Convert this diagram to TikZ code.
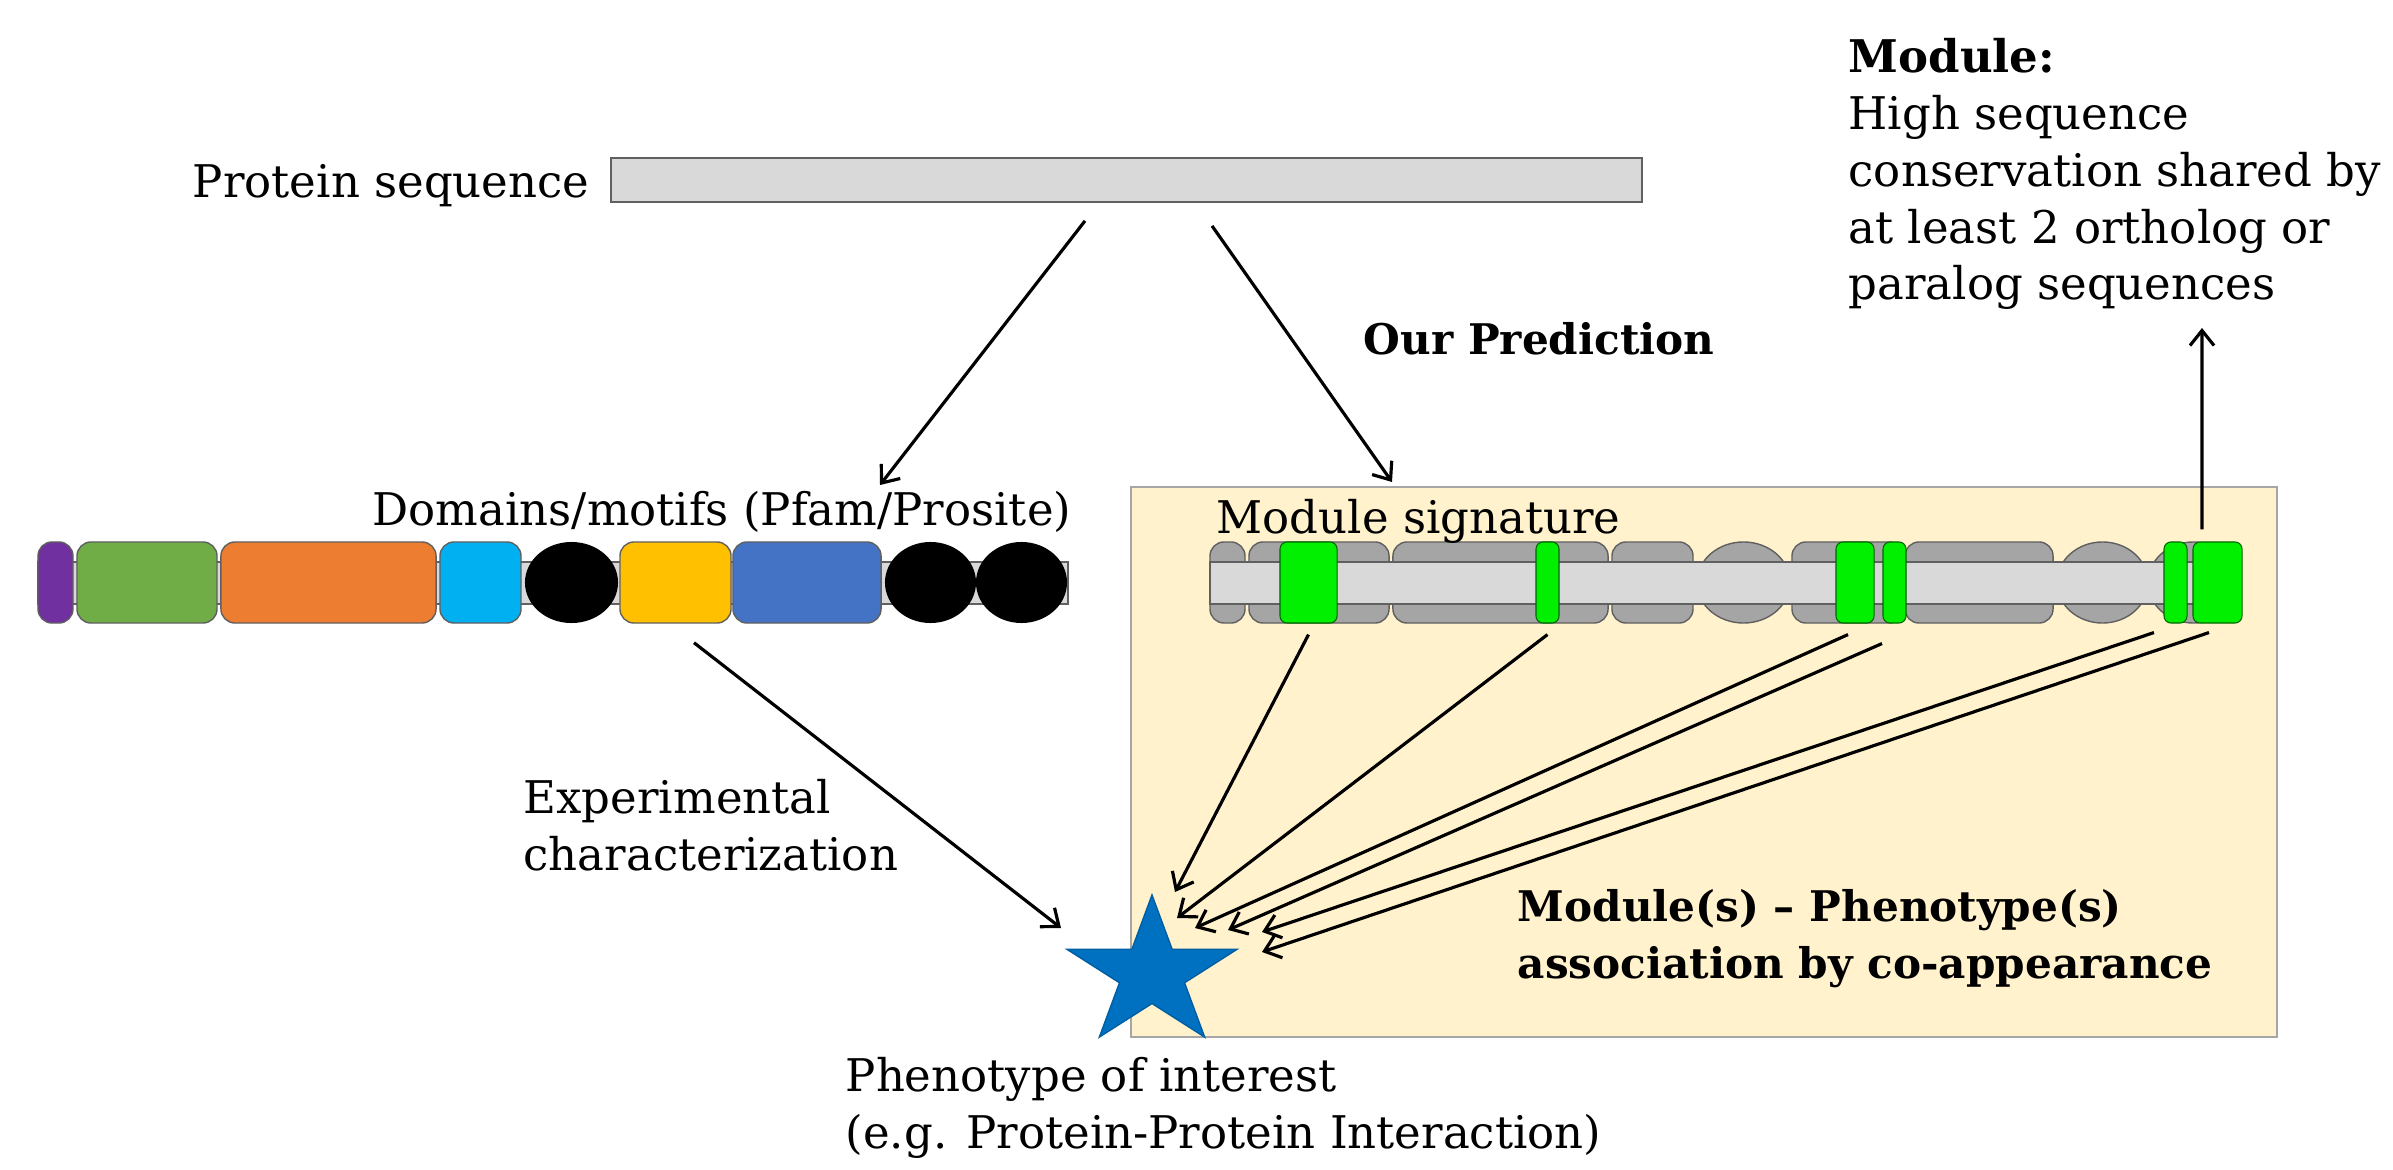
\documentclass[tikz,border=0pt]{standalone}
\usepackage{fontspec}
\setmainfont{DejaVu Serif}
\usetikzlibrary{arrows.meta}
\usetikzlibrary{shapes.geometric}
\definecolor{cPurple}{HTML}{7030A0}
\definecolor{cGreen}{HTML}{70AD47}
\definecolor{cOrange}{HTML}{ED7D31}
\definecolor{cCyan}{HTML}{00B0F0}
\definecolor{cYellow}{HTML}{FFC000}
\definecolor{cBlue}{HTML}{4472C4}
\definecolor{cDom}{HTML}{A5A5A5}
\definecolor{cStrip}{HTML}{D9D9D9}
\definecolor{cMod}{HTML}{00F000}
\definecolor{cBox}{HTML}{FFF2CC}
\definecolor{cStar}{HTML}{0070C0}
\tikzset{dom/.style = {draw=gray!75!black, line width=0.4pt, rounded corners=0.14cm,
                       minimum height=0.81cm, inner sep=0},
         blob/.style = {ellipse, minimum height=0.81cm, inner sep=0},
         strip/.style = {draw=gray!75!black, line width=0.5pt, fill=cStrip,
                         minimum height=0.42cm, inner sep=0},
         mod/.style = {draw=green!40!black, line width=0.3pt, fill=cMod,
                       rounded corners=0.07cm, minimum height=0.81cm, inner sep=0},
         lbl/.style = {inner sep=0, align=left, font=\fontsize{12.8pt}{16.2pt}\selectfont},
         bold/.style = {lbl, font=\fontsize{12pt}{16.2pt}\selectfont\bfseries},
         arr/.style = {-{Straight Barb[length=1.5mm, width=2.4mm]}, line width=0.9pt}}

\begin{document}
\begin{tikzpicture}[x=0.01cm, y=-0.01cm]
    \useasboundingbox (0, 0) rectangle (2393, 1170);

    % protein
    \node [strip, minimum width=10.31cm, minimum height=0.44cm] (seq) at (1126.5, 180) {};
    \node [lbl, anchor=base east] (seqlbl) at (590, 198) {Protein sequence};

    % known domains
    \node [strip, minimum width=10.3cm] (lbar) at (553, 583) {};
    \foreach \c/\w/\col [count=\i] in {55.5/0.35/cPurple, 147/1.40/cGreen, 328.5/2.15/cOrange,
                                       480.5/0.81/cCyan, 675.5/1.11/cYellow, 807/1.48/cBlue}
      \node [dom, fill=\col, minimum width=\w cm] (d\i) at (\c, 582.5) {};
    \foreach \c/\w [count=\i] in {571.5/0.93, 930.5/0.91, 1021.5/0.91}
      \node [blob, fill=black, minimum width=\w cm] (e\i) at (\c, 582.5) {};
    \node [lbl, anchor=base east] (domlbl) at (1072, 525) {Domains/motifs (Pfam/Prosite)};

    % prediction
    \node [draw=gray!70, line width=0.5pt, fill=cBox, minimum width=11.46cm,
           minimum height=5.5cm, inner sep=0] (predbox) at (1704, 762) {};
    \foreach \c/\w [count=\i] in {55.5/0.35, 147/1.40, 328.5/2.15, 480.5/0.81, 675.5/1.11, 807/1.48}
      \node [dom, fill=cDom, minimum width=\w cm] (r\i) at (\c+1172, 582.5) {};
    \foreach \c/\w [count=\i] in {571.5/0.93, 930.5/0.91, 1021.5/0.91}
      \node [blob, draw=gray!75!black, line width=0.4pt, fill=cDom, minimum width=\w cm] (q\i) at (\c+1172, 582.5) {};
    \node [strip, minimum width=10.3cm] (rbar) at (1725, 583) {};
    \foreach \c/\w [count=\i] in {1308.5/0.57, 1547.5/0.23, 1855/0.38, 1894.5/0.23, 2175.5/0.23, 2217.5/0.49}
      \node [mod, minimum width=\w cm] (g\i) at (\c, 582.5) {};
    \node [lbl, anchor=base west] (siglbl) at (1216, 533) {Module signature};

    \begin{scope}[shift={(1152, 973.5)}, xscale=1.14]
      \node [star, star points=5, star point ratio=2.618, minimum size=1.57cm, inner sep=0,
             fill=cStar, draw=cStar!85!black, line width=0.4pt, transform shape] (phen) at (0, 0) {};
    \end{scope}

    % texts (base = last line)
    \node [bold, anchor=base west] (predlbl) at (1363, 354) {Our Prediction};
    \node [lbl, anchor=base west] (modlbl) at (1848, 300) {\textbf{Module:}\\High sequence\\conservation shared by\\at least 2 ortholog or\\paralog sequences};
    \node [lbl, anchor=base west] (explbl) at (523, 870) {Experimental\\characterization};
    \node [bold, anchor=base west] (assoclbl) at (1517, 978) {Module(s) -- Phenotype(s)\\association by co-appearance};
    \node [lbl, anchor=base west] (phenlbl) at (845, 1148) {Phenotype of interest\\(e.g. Protein-Protein Interaction)};

    % arrow ends
    \coordinate (tDom) at (880, 485);
    \coordinate (tBox) at (1392, 482);
    \coordinate (tUp) at (2202, 328);
    \coordinate (tExp) at (1061, 928);
    \coordinate (t1) at (1175, 892);
    \coordinate (t2) at (1177, 918);
    \coordinate (t3) at (1195, 928);
    \coordinate (t4) at (1228, 930);
    \coordinate (t5) at (1262, 932);
    \coordinate (t6) at (1262, 952);

    \draw [arr] ([xshift=-0.415cm, yshift=-0.18cm]seq.south) -- (tDom);
    \draw [arr] ([xshift=0.855cm, yshift=-0.23cm]seq.south) -- (tBox);
    \draw [arr] ([xshift=-0.155cm, yshift=0.12cm]g6.north) -- (tUp);
    \draw [arr] ([xshift=0.185cm, yshift=-0.19cm]d5.south) -- (tExp);

    \draw [arr] ([yshift=-0.11cm]g1.south) -- (t1);
    \draw [arr] ([yshift=-0.11cm]g2.south) -- (t2);
    \draw [arr] ([xshift=-0.07cm, yshift=-0.11cm]g3.south) -- (t3);
    \draw [arr] ([xshift=-0.125cm, yshift=-0.2cm]g4.south) -- (t4);
    \draw [arr] ([xshift=-0.215cm, yshift=-0.09cm]g5.south) -- (t5);
    \draw [arr] ([xshift=-0.085cm, yshift=-0.09cm]g6.south) -- (t6);
\end{tikzpicture}
\end{document}
